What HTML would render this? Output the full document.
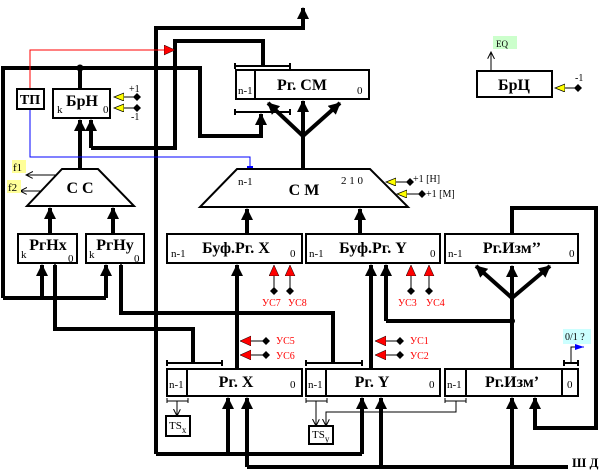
<!DOCTYPE html>
<html><head><meta charset="utf-8"><style>
html,body{margin:0;padding:0;background:#fff;}
svg{display:block;}
text{font-family:"Liberation Serif","Noto Serif CJK SC",serif;}
.b{font-weight:bold;font-size:16px;}
.s{font-size:11px;}
.r{fill:#f00;font-size:10px;font-family:"Liberation Sans",sans-serif;}
</style></head><body>
<svg width="603" height="475" viewBox="0 0 603 475" xmlns="http://www.w3.org/2000/svg">
<defs>
<marker id="A" markerUnits="userSpaceOnUse" markerWidth="12" markerHeight="12" refX="11" refY="6" orient="auto"><path d="M0,0 L12,6 L0,12 z" fill="#000"/></marker>
<marker id="a" markerUnits="userSpaceOnUse" markerWidth="8" markerHeight="8" refX="7" refY="3.5" orient="auto"><path d="M0,0 L7,3.5 L0,7" fill="none" stroke="#000" stroke-width="1"/></marker>
<marker id="R" markerUnits="userSpaceOnUse" markerWidth="12" markerHeight="12" refX="11" refY="5" orient="auto"><path d="M0,0 L11,5 L0,10 z" fill="#f00" stroke="#000" stroke-width="0.5"/></marker>
<marker id="Y" markerUnits="userSpaceOnUse" markerWidth="12" markerHeight="10" refX="10" refY="4" orient="auto"><path d="M0,0 L10,4 L0,8 z" fill="#ff0" stroke="#000" stroke-width="0.8"/></marker>
<marker id="B" markerUnits="userSpaceOnUse" markerWidth="10" markerHeight="8" refX="9" refY="3" orient="auto"><path d="M0,0 L9,3 L0,6 z" fill="#00f"/></marker>
<marker id="D" markerUnits="userSpaceOnUse" markerWidth="8" markerHeight="8" refX="4" refY="4"><path d="M4,0 L8,4 L4,8 L0,4 z" fill="#000"/></marker>
</defs>

<!-- thick wiring -->
<g fill="none" stroke="#000" stroke-width="4">
<path d="M156,454 V28 H303 V8" marker-end="url(#A)"/>
<path d="M303,169 V136"/>
<path d="M303,136 V101" marker-end="url(#A)"/>
<path d="M303,136 L268,103" marker-end="url(#A)"/>
<path d="M303,136 L340,103" marker-end="url(#A)"/>
<path d="M91,148 H175 V41 H263 V66"/>
<path d="M91,148 V120" marker-end="url(#A)"/>
<path d="M3,298 V68 H200 V136 H261 V114" marker-end="url(#A)"/>
<path d="M80,68 V89"/>
<path d="M80,169 V120" marker-end="url(#A)"/>
<path d="M50,234 V208" marker-end="url(#A)"/>
<path d="M113,234 V208" marker-end="url(#A)"/>
<path d="M3,298 H106"/>
<path d="M42,298 V265" marker-end="url(#A)"/>
<path d="M106,298 V265" marker-end="url(#A)"/>
<path d="M55,265 V329 H193 V363" marker-start="url(#A)"/>
<path d="M121,265 V313 H333 V363" marker-start="url(#A)"/>
<path d="M247,234 V209" marker-end="url(#A)"/>
<path d="M360,234 V209" marker-end="url(#A)"/>
<path d="M237,369 V265" marker-end="url(#A)"/>
<path d="M371,369 V265" marker-end="url(#A)"/>
<path d="M386,321 V265" marker-end="url(#A)"/>
<path d="M386,321 H512"/>
<path d="M512,369 V298"/>
<path d="M512,298 V266" marker-end="url(#A)"/>
<path d="M512,298 L476,266" marker-end="url(#A)"/>
<path d="M512,298 L550,266" marker-end="url(#A)"/>
<path d="M512,234 V208 H596 V428 H535 V398" marker-end="url(#A)"/>
<path d="M156,454 H362"/>
<path d="M228,454 V398" marker-end="url(#A)"/>
<path d="M362,454 V398" marker-end="url(#A)"/>
<path d="M247,467 H568"/>
<path d="M247,467 V398" marker-end="url(#A)"/>
<path d="M381,467 V398" marker-end="url(#A)"/>
<path d="M512,467 V398" marker-end="url(#A)"/>
</g>
<circle cx="80" cy="68" r="3.5"/>
<circle cx="512" cy="321" r="3"/>

<!-- thin lines -->
<path d="M30,89 V50 H175" fill="none" stroke="#f00" stroke-width="1" marker-end="url(#R)"/>
<path d="M250,169 V157 H30 V98" fill="none" stroke="#00f" stroke-width="1" marker-end="url(#B)"/>
<rect x="247" y="166" width="6" height="6" fill="#00f"/>
<g fill="none" stroke="#000" stroke-width="1">
<path d="M67,175 H26" marker-end="url(#a)"/>
<path d="M42,191 H20" marker-end="url(#a)"/>
<path d="M491,71 V52" marker-end="url(#a)"/>
<path d="M177,401 V416" marker-end="url(#a)"/>
<path d="M316,401 V426" marker-end="url(#a)"/>
<path d="M456,401 V412 H326 V426" marker-end="url(#a)"/>
<path d="M571,363 V347 H583" stroke="#000"/>
</g>
<path d="M577,347 H584" stroke="#00f" stroke-width="1" marker-end="url(#B)"/>
<!-- brackets -->
<g fill="none" stroke="#000" stroke-width="2">
<path d="M235,63 V69 M235,66 H290 M290,63 V69"/>
<path d="M235,109 V115 M235,112 H290 M290,109 V115"/>
<path d="M167,360 V366 M167,363 H222 M222,360 V366"/>
<path d="M306,360 V366 M306,363 H362 M362,360 V366"/>
<path d="M564,360 V366 M564,363 H578 M578,360 V366"/>
</g>
<g fill="none" stroke="#000" stroke-width="1">
<path d="M167,398 V403 M167,401 H188 M188,398 V403"/>
<path d="M306,398 V403 M306,401 H327 M327,398 V403"/>
<path d="M445,398 V403 M445,401 H466 M466,398 V403"/>
</g>

<!-- yellow inputs -->
<g fill="none" stroke="#000" stroke-width="1">
<path d="M137,97 H114" marker-end="url(#Y)" marker-start="url(#D)"/>
<path d="M137,108 H114" marker-end="url(#Y)" marker-start="url(#D)"/>
<path d="M410,182 H386" marker-end="url(#Y)" marker-start="url(#D)"/>
<path d="M422,194 H397" marker-end="url(#Y)" marker-start="url(#D)"/>
<path d="M578,88 H555" marker-end="url(#Y)" marker-start="url(#D)"/>
<!-- red inputs -->
<path d="M274,291 V265" marker-end="url(#R)" marker-start="url(#D)"/>
<path d="M290,291 V265" marker-end="url(#R)" marker-start="url(#D)"/>
<path d="M411,291 V265" marker-end="url(#R)" marker-start="url(#D)"/>
<path d="M429,291 V265" marker-end="url(#R)" marker-start="url(#D)"/>
<path d="M266,341 H240" marker-end="url(#R)" marker-start="url(#D)"/>
<path d="M266,355 H240" marker-end="url(#R)" marker-start="url(#D)"/>
<path d="M400,341 H375" marker-end="url(#R)" marker-start="url(#D)"/>
<path d="M400,355 H375" marker-end="url(#R)" marker-start="url(#D)"/>
</g>

<!-- boxes -->
<g fill="#fff" stroke="#000" stroke-width="2">
<rect x="17" y="89" width="27" height="20"/>
<rect x="53" y="89" width="57" height="29"/>
<rect x="236" y="70" width="133" height="29"/>
<rect x="477" y="71" width="75" height="26"/>
<path d="M62,169 H98 L134,206 H27 Z"/>
<path d="M237,169 H370 L408,207 H200 Z"/>
<rect x="18" y="234" width="59" height="29"/>
<rect x="86" y="234" width="58" height="29"/>
<rect x="167" y="234" width="135" height="29"/>
<rect x="306" y="234" width="134" height="29"/>
<rect x="445" y="234" width="133" height="29"/>
<rect x="167" y="369" width="135" height="27"/>
<rect x="306" y="369" width="134" height="27"/>
<rect x="445" y="369" width="133" height="27"/>
<rect x="166" y="416" width="24" height="20"/>
<rect x="309" y="426" width="24" height="18"/>
</g>
<g stroke="#000" stroke-width="2">
<path d="M255,70 V99 M187,369 V396 M326,369 V396 M466,369 V396 M562,369 V396"/>
</g>
<circle cx="250" cy="169" r="0"/>

<!-- labels bg -->
<rect x="12" y="160" width="14" height="13" fill="#ffff99"/>
<rect x="7" y="180" width="14" height="13" fill="#ffff99"/>
<rect x="493" y="36" width="24" height="13" fill="#ccffcc"/>
<rect x="563" y="329" width="28" height="15" fill="#ccffff"/>

<!-- text -->
<g class="b">
<text x="30" y="104" text-anchor="middle" font-size="14">ТП</text>
<text x="82" y="106" text-anchor="middle">БрН</text>
<text x="302" y="90" text-anchor="middle">Рг. СМ</text>
<text x="514" y="90" text-anchor="middle">БрЦ</text>
<text x="80" y="193" text-anchor="middle">С С</text>
<text x="304" y="195" text-anchor="middle">С М</text>
<text x="48" y="250" text-anchor="middle">РгНх</text>
<text x="115" y="250" text-anchor="middle">РгНу</text>
<text x="236" y="253" text-anchor="middle">Буф.Рг. X</text>
<text x="373" y="253" text-anchor="middle">Буф.Рг. Y</text>
<text x="512" y="253" text-anchor="middle">Рг.Изм’’</text>
<text x="236" y="387" text-anchor="middle">Рг. X</text>
<text x="372" y="387" text-anchor="middle">Рг. Y</text>
<text x="512" y="387" text-anchor="middle">Рг.Изм’</text>
<text x="572" y="467" font-size="13">Ш Д</text>
</g>
<g class="s">
<text x="57" y="113">k</text><text x="103" y="113">0</text>
<text x="238" y="94">n-1</text><text x="357" y="94">0</text>
<text x="238" y="185">n-1</text><text x="341" y="184">2 1 0</text>
<text x="21" y="258">k</text><text x="68" y="262">0</text>
<text x="89" y="258">k</text><text x="134" y="262">0</text>
<text x="171" y="257">n-1</text><text x="290" y="257">0</text>
<text x="309" y="257">n-1</text><text x="430" y="257">0</text>
<text x="448" y="257">n-1</text><text x="569" y="257">0</text>
<text x="169" y="388">n-1</text><text x="290" y="388">0</text>
<text x="308" y="388">n-1</text><text x="429" y="388">0</text>
<text x="447" y="388">n-1</text><text x="567" y="388">0</text>
<text x="129" y="92" font-family="Liberation Sans" font-size="10">+1</text>
<text x="131" y="120" font-family="Liberation Sans" font-size="10">-1</text>
<text x="413" y="182" font-family="Liberation Sans" font-size="10">+1 [Н]</text>
<text x="426" y="197" font-family="Liberation Sans" font-size="10">+1 [М]</text>
<text x="575" y="81" font-family="Liberation Sans" font-size="10">-1</text>
<text x="13" y="171" font-size="11">f1</text>
<text x="8" y="191" font-size="11">f2</text>
<text x="496" y="47" font-size="9">EQ</text>
<text x="565" y="340" font-size="10">0/1 ?</text>
<text x="169" y="429" font-size="11" font-family="Liberation Sans">TS<tspan font-size="9" dy="4">x</tspan></text>
<text x="312" y="438" font-size="11" font-family="Liberation Sans">TS<tspan font-size="9" dy="4">y</tspan></text>
</g>
<g class="r">
<text x="262" y="306">УС7</text><text x="288" y="306">УС8</text>
<text x="398" y="306">УС3</text><text x="426" y="306">УС4</text>
<text x="276" y="344">УС5</text><text x="276" y="359">УС6</text>
<text x="410" y="344">УС1</text><text x="410" y="359">УС2</text>
</g>
</svg>
</body></html>
